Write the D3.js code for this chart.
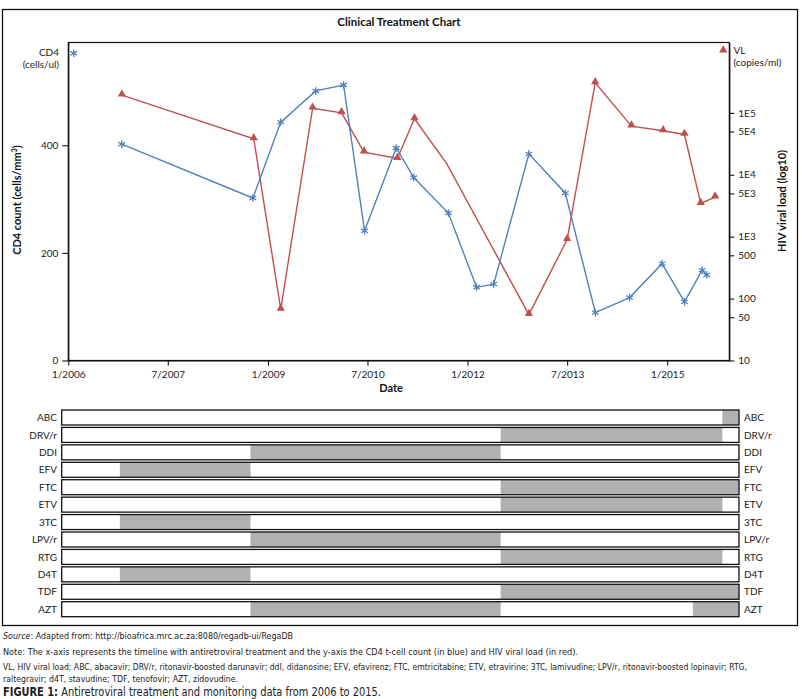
<!DOCTYPE html>
<html><head><meta charset="utf-8">
<script src="https://cdn.jsdelivr.net/npm/d3@7"></script>
<style>body{margin:0;background:#fff} svg{display:block}</style>
</head><body>
<svg id="c" width="802" height="699"></svg>
<script>
// ---------- data ----------
const cd4Dates = ["2006-10-21","2008-10-10","2009-03-12","2009-09-20","2010-02-20","2010-06-15","2010-12-06","2011-03-12","2011-09-18","2012-02-20","2012-05-24","2012-12-03","2013-06-21","2013-12-03","2014-06-09","2014-12-04","2015-04-06","2015-07-12","2015-08-06"];
const cd4Values = [402, 302, 443, 501, 512, 241, 395, 340, 274, 136, 142, 384, 311, 89, 117, 180, 109, 168, 159];
const vlDates = ["2006-10-22","2008-10-15","2009-03-12","2009-09-03","2010-02-09","2010-06-12","2010-12-12","2011-03-16","2011-09-09","2012-12-03","2013-07-01","2013-12-02","2014-06-19","2014-12-10","2015-04-06","2015-07-04","2015-09-21"];
const vlValues = [193000, 38000, 67, 119000, 100000, 23200, 18300, 80300, 15100, 55, 900, 306000, 61000, 51400, 44800, 3440, 4350];
const vlNoMarker = [8];
const xTickDates = ["2006-01-01","2007-07-01","2009-01-01","2010-07-01","2012-01-01","2013-07-01","2015-01-01"];
const xTickLabels = ["1/2006","7/2007","1/2009","7/2010","1/2012","7/2013","1/2015"];
const cd4Ticks = [0, 200, 400];
const vlTicks = [10, 50, 100, 500, 1000, 5000, 10000, 50000, 100000];
const vlTickLabels = ["10","50","100","500","1E3","5E3","1E4","5E4","1E5"];
const drugs = ["ABC","DRV/r","DDI","EFV","FTC","ETV","3TC","LPV/r","RTG","D4T","TDF","AZT"];
const drugPeriods = [
  [["2015-10-31", null]],
  [["2012-07-01","2015-10-31"]],
  [["2008-09-27","2012-07-01"]],
  [["2006-10-11","2008-09-27"]],
  [["2012-07-01", null]],
  [["2012-07-01","2015-10-31"]],
  [["2006-10-11","2008-09-27"]],
  [["2008-09-27","2012-07-01"]],
  [["2012-07-01","2015-10-31"]],
  [["2006-10-11","2008-09-27"]],
  [["2012-07-01", null]],
  [["2008-09-27","2012-07-01"],["2015-05-22", null]]
];
const footLines = [
  ["Source", ": Adapted from: http://bioafrica.mrc.ac.za:8080/regadb-ui/RegaDB"],
  ["", "Note: The x-axis represents the timeline with antiretroviral treatment and the y-axis the CD4 t-cell count (in blue) and HIV viral load (in red)."],
  ["", "VL, HIV viral load; ABC, abacavir; DRV/r, ritonavir-boosted darunavir; ddI, didanosine; EFV, efavirenz; FTC, emtricitabine; ETV, etravirine; 3TC, lamivudine; LPV/r, ritonavir-boosted lopinavir; RTG,"],
  ["", "raltegravir; d4T, stavudine; TDF, tenofovir; AZT, zidovudine."]
];
const captionBold = "FIGURE 1:";
const captionText = " Antiretroviral treatment and monitoring data from 2006 to 2015.";

// ---------- layout ----------
const parse = d3.timeParse("%Y-%m-%d");
const BLUE = "#4F81BD", RED = "#C0504D", GRAY = "#b1b1b3";
const FONT = "Lato, 'Open Sans', sans-serif";
const plot = {l: 68.3, r: 729.3, t: 42.5, b: 360.5};
const svg = d3.select("#c").style("font-family", FONT);

const x = d3.scaleTime().domain([parse("2006-01-01"), parse("2015-12-08")]).range([plot.l, plot.r]);
const yL = d3.scaleLinear().domain([0, 591]).range([plot.b, plot.t]);
const yR = d3.scaleLog().domain([10, Math.pow(10, 6.137)]).range([plot.b, plot.t]);

// outer frame
svg.append("rect").attr("x", 2.5).attr("y", 9.5).attr("width", 795).attr("height", 616)
  .attr("fill", "none").attr("stroke", "#111").attr("stroke-width", 1.3);

// title
svg.append("text").attr("x", 399).attr("y", 26).attr("text-anchor", "middle")
  .attr("font-size", 11.5).attr("font-weight", "bold").attr("fill", "#111").text("Clinical Treatment Chart");

// plot frame
svg.append("rect").attr("x", plot.l).attr("y", plot.t).attr("width", plot.r - plot.l).attr("height", plot.b - plot.t)
  .attr("fill", "none").attr("stroke", "#111").attr("stroke-width", 1.2);

// axes
const tickColor = "#222";
const gx = svg.append("g").attr("transform", `translate(0,${plot.b})`)
  .call(d3.axisBottom(x).tickValues(xTickDates.map(parse)).tickFormat((d, i) => xTickLabels[i]).tickSize(5).tickSizeOuter(0));
const gl = svg.append("g").attr("transform", `translate(${plot.l},0)`)
  .call(d3.axisLeft(yL).tickValues(cd4Ticks).tickSize(6).tickPadding(4).tickSizeOuter(0));
const gr = svg.append("g").attr("transform", `translate(${plot.r},0)`)
  .call(d3.axisRight(yR).tickValues(vlTicks).tickFormat((d, i) => vlTickLabels[i]).tickSize(5).tickPadding(4).tickSizeOuter(0));
[gx, gl, gr].forEach(g => {
  g.select(".domain").attr("stroke", "#111").attr("stroke-width", 1.2);
  g.selectAll(".tick line").attr("stroke", "#111").attr("stroke-width", 1.1);
  g.selectAll(".tick text").attr("font-family", FONT).attr("font-size", 10).attr("fill", tickColor);
});
gx.selectAll(".tick text").attr("dy", "0.95em");

// axis titles
svg.append("text").attr("transform", "translate(21,200) rotate(-90)").attr("text-anchor", "middle")
  .attr("font-size", 11).attr("font-weight", "bold").attr("fill", "#111")
  .html('CD4 count (cells/mm<tspan baseline-shift="super" font-size="7">3</tspan>)');
svg.append("text").attr("transform", "translate(786,201) rotate(-90)").attr("text-anchor", "middle")
  .attr("font-size", 11).attr("font-weight", "bold").attr("fill", "#111").text("HIV viral load (log10)");
svg.append("text").attr("x", 391).attr("y", 392).attr("text-anchor", "middle")
  .attr("font-size", 11).attr("font-weight", "bold").attr("fill", "#111").text("Date");

// marker helpers
function star(sel, cx, cy, r) {
  const g = sel.append("g").attr("transform", `translate(${cx},${cy})`)
    .attr("stroke", BLUE).attr("stroke-width", 1.3).attr("fill", "none");
  g.append("path").attr("d", `M0,${-r}V${r}M${-r*0.87},${-r*0.5}L${r*0.87},${r*0.5}M${-r*0.87},${r*0.5}L${r*0.87},${-r*0.5}`);
}
const tri = d3.symbol().type(d3.symbolTriangle).size(30);

// legend-like labels
svg.append("text").attr("x", 59).attr("y", 56).attr("text-anchor", "end").attr("font-size", 10).attr("fill", tickColor).text("CD4");
svg.append("text").attr("x", 59).attr("y", 68).attr("text-anchor", "end").attr("font-size", 10).attr("fill", tickColor).text("(cells/ul)");
star(svg, 73.7, 53.3, 3.8);
svg.append("path").attr("d", tri).attr("transform", "translate(723.3,50)").attr("fill", RED);
svg.append("text").attr("x", 733.5).attr("y", 53.5).attr("font-size", 10).attr("fill", tickColor).text("VL");
svg.append("text").attr("x", 733.5).attr("y", 66).attr("font-size", 10).attr("fill", tickColor).text("(copies/ml)");

// series
const cd4 = cd4Dates.map((d, i) => ({d: parse(d), v: cd4Values[i]}));
const vl = vlDates.map((d, i) => ({d: parse(d), v: vlValues[i], m: !vlNoMarker.includes(i)}));

svg.append("path").datum(vl).attr("fill", "none").attr("stroke", RED).attr("stroke-width", 1.4)
  .attr("d", d3.line().x(p => x(p.d)).y(p => yR(p.v)));
svg.append("path").datum(cd4).attr("fill", "none").attr("stroke", BLUE).attr("stroke-width", 1.4)
  .attr("d", d3.line().x(p => x(p.d)).y(p => yL(p.v)));
svg.append("g").selectAll("path").data(vl.filter(p => p.m)).join("path")
  .attr("d", tri).attr("fill", RED)
  .attr("transform", p => `translate(${x(p.d)},${yR(p.v) - 1})`);
const sg = svg.append("g");
cd4.forEach(p => star(sg, x(p.d), yL(p.v), 3.8));

// ---------- drug table ----------
const tbl = {l: 61.7, r: 739};
const yRow = d3.scaleBand().domain(drugs).range([410, 616.7]).paddingInner(0.14).paddingOuter(0);
const xc = p => Math.max(tbl.l, Math.min(tbl.r, p));
const tg = svg.append("g");
drugs.forEach((dr, i) => {
  const y0 = yRow(dr), h = yRow.bandwidth();
  drugPeriods[i].forEach(([s, e]) => {
    const x0 = xc(x(parse(s)));
    const x1 = e ? xc(x(parse(e))) : tbl.r;
    tg.append("rect").attr("x", x0).attr("y", y0).attr("width", x1 - x0).attr("height", h).attr("fill", GRAY);
  });
  tg.append("rect").attr("x", tbl.l).attr("y", y0).attr("width", tbl.r - tbl.l).attr("height", h)
    .attr("fill", "none").attr("stroke", "#111").attr("stroke-width", 1.3);
  tg.append("text").attr("x", 57).attr("y", y0 + h / 2 + 3.6).attr("text-anchor", "end")
    .attr("font-size", 10).attr("fill", tickColor).text(dr);
  tg.append("text").attr("x", 744).attr("y", y0 + h / 2 + 3.6)
    .attr("font-size", 10).attr("fill", tickColor).text(dr);
});

// ---------- footnotes ----------
const NARROW = "'Liberation Sans Narrow', 'DejaVu Sans Condensed', sans-serif";
const footY = [639, 655, 670, 681.5];
const footW = [290, 575, 744, 235];
footLines.forEach((ln, i) => {
  const t = svg.append("text").attr("x", 3).attr("y", footY[i]).attr("font-family", NARROW)
    .attr("font-size", 9).attr("fill", "#222")
    .attr("textLength", footW[i]).attr("lengthAdjust", "spacingAndGlyphs");
  if (ln[0]) t.append("tspan").attr("font-style", "italic").text(ln[0]);
  t.append("tspan").text(ln[1]);
});
const cap = svg.append("text").attr("x", 3).attr("y", 696).attr("font-family", NARROW)
  .attr("font-size", 12).attr("fill", "#222").attr("textLength", 378).attr("lengthAdjust", "spacingAndGlyphs");
cap.append("tspan").attr("font-weight", "bold").text(captionBold);
cap.append("tspan").text(captionText);
</script>
</body></html>
